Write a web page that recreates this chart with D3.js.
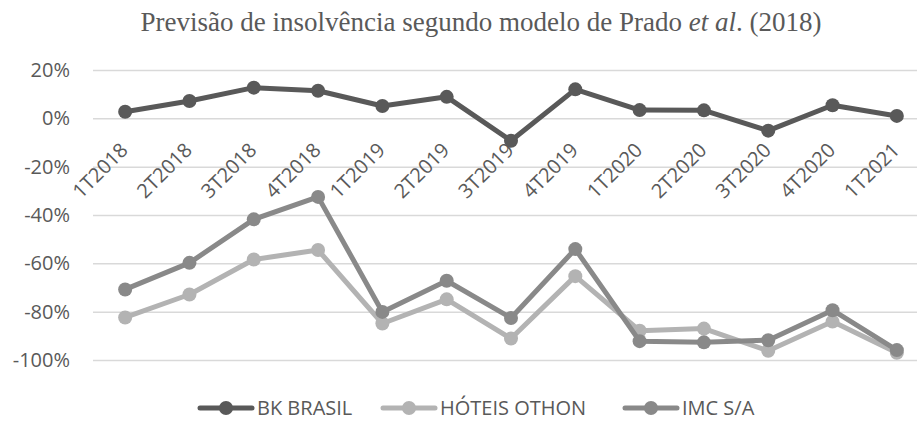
<!DOCTYPE html>
<html>
<head>
<meta charset="utf-8">
<script src="https://cdn.jsdelivr.net/npm/d3@7"></script>
<style>
  body { margin: 0; background: #fff; }
  text { font-family: "Open Sans", sans-serif; fill: #595959; }
</style>
</head>
<body>
<script>
// Chart data
var quarters = ["1T2018", "2T2018", "3T2018", "4T2018", "1T2019", "2T2019", "3T2019",
                "4T2019", "1T2020", "2T2020", "3T2020", "4T2020", "1T2021"];
var bkBrasil = [0.027, 0.072, 0.127, 0.114, 0.051, 0.089, -0.093, 0.120, 0.034, 0.033, -0.051, 0.054, 0.010];
var hoteisOthon = [-0.824, -0.729, -0.584, -0.545, -0.849, -0.749, -0.911, -0.653, -0.879, -0.870, -0.962, -0.841, -0.970];
var imcSA = [-0.708, -0.598, -0.418, -0.325, -0.801, -0.672, -0.826, -0.541, -0.922, -0.927, -0.918, -0.794, -0.959];
var yTicks = [0.2, 0, -0.2, -0.4, -0.6, -0.8, -1.0];

var seriesNames = ["BK BRASIL", "HÓTEIS OTHON", "IMC S/A"];
var seriesColors = ["#595959", "#b3b3b3", "#898989"];

// Chart Params
var svgWidth = 917;
var svgHeight = 421;
var margin = { top: 70, right: -12, bottom: 61, left: 93 };
var width = svgWidth - margin.left - margin.right;
var height = svgHeight - margin.top - margin.bottom;

var svg = d3.select("body")
  .append("svg")
  .attr("width", svgWidth)
  .attr("height", svgHeight);

// title
var title = svg.append("text")
  .attr("x", 481)
  .attr("y", 31)
  .attr("text-anchor", "middle")
  .style("font-family", "'Liberation Serif', serif")
  .style("font-size", "27px");
title.append("tspan").text("Previsão de insolvência segundo modelo de Prado ");
title.append("tspan").style("font-style", "italic").text("et al");
title.append("tspan").text(". (2018)");

var chartGroup = svg.append("g")
  .attr("transform", `translate(${margin.left}, ${margin.top})`);

var x = d3.scaleBand().domain(quarters).range([0, width]);
var y = d3.scaleLinear().domain([-1, 0.2]).range([height, 0]);

// grid lines + y labels
var yAxis = d3.axisLeft(y)
  .tickValues(yTicks)
  .tickSize(-width)
  .tickPadding(23)
  .tickFormat(d3.format(".0%"));

var yg = chartGroup.append("g").call(yAxis);
yg.select(".domain").remove();
yg.selectAll(".tick line").attr("stroke", "#d9d9d9").attr("stroke-width", 1.5);
yg.selectAll(".tick text")
  .style("font-family", "'Open Sans', sans-serif")
  .style("font-size", "20px")
  .attr("fill", "#595959")
  .text(d => d3.format(".0%")(d).replace("−", "-"));

// x labels, rotated, sit just under the 0% line
chartGroup.selectAll(".xlab")
  .data(quarters)
  .enter()
  .append("text")
  .attr("class", "xlab")
  .attr("text-anchor", "end")
  .style("font-size", "20px")
  .attr("transform", d => `translate(${x(d) + x.bandwidth() / 2 + 4}, ${y(0) + 33}) rotate(-45)`)
  .text(d => d);

// lines
var allSeries = [bkBrasil, hoteisOthon, imcSA];
var line = d3.line()
  .x((d, i) => x(quarters[i]) + x.bandwidth() / 2)
  .y(d => y(d));

allSeries.forEach(function(vals, s) {
  var g = chartGroup.append("g");
  g.append("path")
    .datum(vals)
    .attr("d", line)
    .attr("fill", "none")
    .attr("stroke", seriesColors[s])
    .attr("stroke-width", 5)
    .attr("stroke-linejoin", "round");
  g.selectAll("circle")
    .data(vals)
    .enter()
    .append("circle")
    .attr("cx", (d, i) => x(quarters[i]) + x.bandwidth() / 2)
    .attr("cy", d => y(d))
    .attr("r", 7)
    .attr("fill", seriesColors[s]);
});

// legend
var legendX = [200, 383, 625];
var legend = svg.selectAll(".legend")
  .data(seriesNames)
  .enter()
  .append("g")
  .attr("class", "legend")
  .attr("transform", (d, i) => `translate(${legendX[i]}, 408)`);

legend.append("line")
  .attr("x1", 0).attr("x2", 52)
  .attr("y1", 0).attr("y2", 0)
  .attr("stroke", (d, i) => seriesColors[i])
  .attr("stroke-width", 5)
  .attr("stroke-linecap", "round");
legend.append("circle")
  .attr("cx", 26).attr("cy", 0).attr("r", 7)
  .attr("fill", (d, i) => seriesColors[i]);
legend.append("text")
  .attr("x", 57)
  .attr("y", 7)
  .style("font-size", "20px")
  .text(d => d);
</script>
</body>
</html>
